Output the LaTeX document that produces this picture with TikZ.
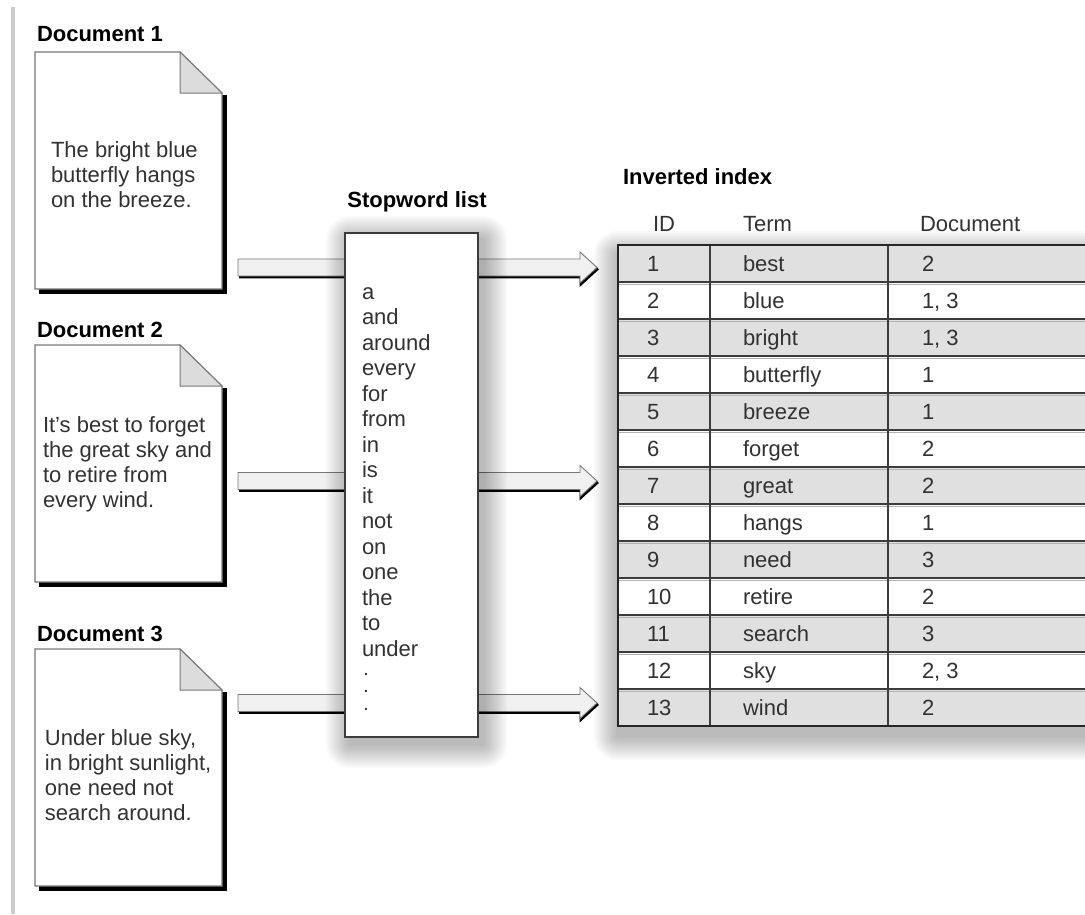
\documentclass[tikz,border=0pt]{standalone}
\usepackage{fontspec}
\setmainfont{Liberation Sans}
\usetikzlibrary{calc}
\definecolor{txt}{RGB}{50,50,50}
\definecolor{rowgray}{RGB}{224,224,224}
\definecolor{foldgray}{RGB}{220,220,220}
\definecolor{edgegray}{RGB}{120,120,120}
\definecolor{shaftgray}{RGB}{240,240,240}
\definecolor{linedark}{RGB}{60,60,60}
\begin{document}
\begin{tikzpicture}[x=1pt,y=-1pt,
  every node/.style={inner sep=0pt, outer sep=0pt},
  body/.style={font=\fontsize{22}{25}\selectfont, text=txt, anchor=base west},
  titletext/.style={font=\fontsize{22}{25}\selectfont\bfseries, text=black, anchor=base west},
  docframe/.style={minimum width=187pt, minimum height=237pt, anchor=north west},
  gridline/.style={draw=linedark, line width=1.3pt},
  softline/.style={draw=black!30, line width=1pt}
]
\useasboundingbox (0,0) rectangle (1085,914);
\clip (0,0) rectangle (1085,914);
\fill[white] (0,0) rectangle (1085,914);
\fill[black!20] (11,7) rectangle (15,914);

% documents
\foreach \n/\t in {1/52, 2/345, 3/649} {
  \node[docframe] (doc\n) at (35,\t) {};
  \fill[black] ($(doc\n.north east)+(-1,43)$) rectangle ($(doc\n.south east)+(5,5)$);
  \fill[black] ($(doc\n.south west)+(4,-1)$) rectangle ($(doc\n.south east)+(5,5)$);
  \filldraw[fill=white, draw=edgegray, line width=1.2pt] (doc\n.north west) -- ($(doc\n.north east)+(-42,0)$) -- ($(doc\n.north east)+(0,41)$) -- (doc\n.south east) -- (doc\n.south west) -- cycle;
  \filldraw[fill=foldgray, draw=edgegray, line width=1pt] ($(doc\n.north east)+(-42,0)$) -- ($(doc\n.north east)+(-42,41)$) -- ($(doc\n.north east)+(0,41)$) -- cycle;
}
\node[titletext] (title1) at (37,41.5) {Document 1};
\node[titletext] (title2) at (37,337.5) {Document 2};
\node[titletext] (title3) at (37,641) {Document 3};

\foreach \s [count=\k] in {The bright blue, butterfly hangs, on the breeze.}
  \node[body] (doca\k) at (51,{157.5+25*(\k-1)}) {\s};
\foreach \s [count=\k] in {It's best to forget, the great sky and, to retire from, every wind.}
  \node[body] (docb\k) at (43,{432+25*(\k-1)}) {\s};
\foreach \s [count=\k] in {{Under blue sky,}, {in bright sunlight,}, one need not, search around.}
  \node[body] (docc\k) at (45,{745+25*(\k-1)}) {\s};

% arrows
\foreach \k/\yy in {1/267.5, 2/481, 3/703} {
  \coordinate (as\k) at (238,\yy);
  \coordinate (ae\k) at (597,\yy);
  \draw[black, line width=2.6pt, line join=miter] ($(as\k)+(1,9.5)$) -- ($(ae\k)+(-16,9.5)$) -- ($(ae\k)+(-16,16.5)$) -- ($(ae\k)+(1,1)$);
  \filldraw[fill=shaftgray, draw=edgegray, line width=0.9pt] ($(as\k)+(0,-8.5)$) -- ($(ae\k)+(-17,-8.5)$) -- ($(ae\k)+(-17,-15.5)$) -- (ae\k) -- ($(ae\k)+(-17,15.5)$) -- ($(ae\k)+(-17,8.5)$) -- ($(as\k)+(0,8.5)$) -- cycle;
}

% stopword list box with soft shadow
\node[minimum width=133pt, minimum height=504pt, anchor=north west] (stop) at (345,233) {};
\foreach \i [evaluate=\i as \r using 2*\i] in {1,...,12}
  \fill[black, opacity=0.022, rounded corners=\r pt] ($(stop.north west)+({5-2*\i},{7-2*\i})$) rectangle ($(stop.south east)+({5+2*\i},{7+2*\i})$);
\filldraw[fill=white, draw=linedark, line width=1.8pt] (stop.north west) rectangle (stop.south east);
\node[titletext, anchor=base] (stoptitle) at (417,207) {Stopword list};
\foreach \w [count=\k] in {a,and,around,every,for,from,in,is,it,not,on,one,the,to,under}
  \node[body] (sw\k) at (362,{299+25.5*(\k-1)}) {\w};
\foreach \yy [count=\k] in {675,692.5,710}
  \node[body, font=\fontsize{14}{16}\selectfont\bfseries] (dot\k) at (364,\yy) {.};

% inverted index table
\node[minimum width=480pt, minimum height=481pt, anchor=north west] (table) at (618,245) {};
\foreach \i [evaluate=\i as \r using 2*\i] in {1,...,12}
  \fill[black, opacity=0.022, rounded corners=\r pt] ($(table.north west)+({-2*\i},{10-2*\i})$) rectangle ($(table.south east)+({2*\i},{10+2*\i})$);
\fill[white] (table.north west) rectangle (table.south east);
\node[titletext] (invtitle) at (623,184) {Inverted index};
\node[body] (hid) at (653,231) {ID};
\node[body] (hterm) at (743,231) {Term};
\node[body] (hdoc) at (920,231) {Document};

\foreach \id/\term/\docs [count=\k] in {1/best/2, 2/blue/{1, 3}, 3/bright/{1, 3}, 4/butterfly/1, 5/breeze/1, 6/forget/2, 7/great/2, 8/hangs/1, 9/need/3, 10/retire/2, 11/search/3, 12/sky/{2, 3}, 13/wind/2} {
  \ifodd\k\relax
    \fill[rowgray] (618,{245+37*(\k-1)}) rectangle (1090,{245+37*\k});
  \fi
  \node[body] (id\k) at (647,{245+37*(\k-1)+26.5}) {\id};
  \node[body] (term\k) at (743,{245+37*(\k-1)+26.5}) {\term};
  \node[body] (docs\k) at (922,{245+37*(\k-1)+26.5}) {\docs};
}
\foreach \k in {1,...,12} {
  \draw[softline] (619,{245+37*\k+2}) -- (1090,{245+37*\k+2});
  \draw[gridline] (618,{245+37*\k}) -- (1090,{245+37*\k});
}
\draw[gridline] (710,245) -- (710,726);
\draw[gridline] (888,245) -- (888,726);
\draw[draw=black!85, line width=2pt] (1090,245) -- (618,245) -- (618,726) -- (1090,726);
\end{tikzpicture}
\end{document}
